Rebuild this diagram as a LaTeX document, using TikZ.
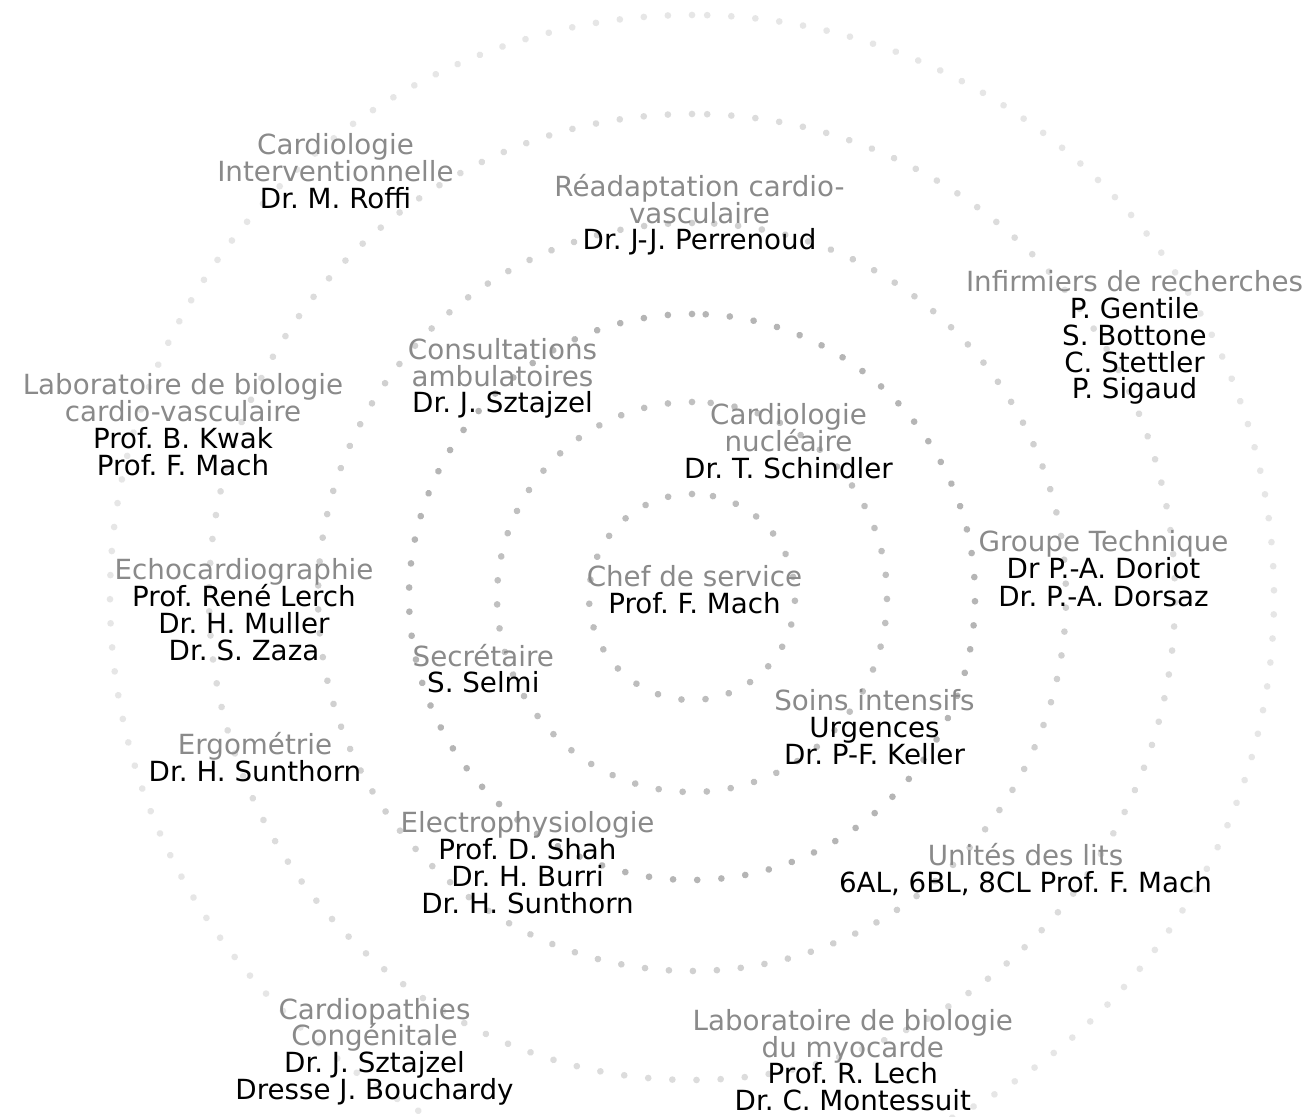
\documentclass[tikz,border=0pt]{standalone}
\usepackage{fontspec}
\setmainfont{DejaVu Sans}
\definecolor{lblgray}{HTML}{8A8A8A}
\definecolor{ringA}{HTML}{BDBDBD}
\definecolor{ringB}{HTML}{C0C0C0}
\definecolor{ringC}{HTML}{B5B5B5}
\definecolor{ringD}{HTML}{D0D0D0}
\definecolor{ringE}{HTML}{DCDCDC}
\definecolor{ringF}{HTML}{E6E6E6}
\newcommand\labelfont{\fontsize{20.8pt}{20pt}\selectfont\frenchspacing}
\newcommand\lbl[5]{\node[#4, anchor=base] (#1) at (#2, {1116-#3}) {#5};}
\tikzset{
  dotring/.style={line width=5pt, line cap=round},
  gl/.style={text=lblgray, font=\labelfont, inner sep=0pt},
  bl/.style={text=black, font=\labelfont, inner sep=0pt}
}
\begin{document}
\begin{tikzpicture}[x=0.75pt,y=0.75pt]
\useasboundingbox[fill=white] (0,0) rectangle (1312,1116);
\coordinate (ctr) at (692,519);
% concentric dotted rings, each starting at its top point
\draw[dotring, ringF, dash pattern=on 0.01pt off 18.08pt] (692,1101) arc[start angle=90, end angle=450, radius=582];
\draw[dotring, ringE, dash pattern=on 0.01pt off 18.11pt] (692,1002) arc[start angle=90, end angle=450, radius=483];
\draw[dotring, ringD, dash pattern=on 0.01pt off 17.99pt] (692,893) arc[start angle=90, end angle=450, radius=374];
\draw[dotring, ringC, dash pattern=on 0.01pt off 18.12pt] (692,802) arc[start angle=90, end angle=450, radius=283];
\draw[dotring, ringB, dash pattern=on 0.01pt off 18.09pt] (692,714) arc[start angle=90, end angle=450, radius=195];
\draw[dotring, ringA, dash pattern=on 0.01pt off 18.05pt] (692,622) arc[start angle=90, end angle=450, radius=103];

% labels
\lbl{ci1}{335.5}{155}{gl}{Cardiologie}
\lbl{ci2}{335.5}{182}{gl}{Interventionnelle}
\lbl{ci3}{335.5}{209}{bl}{Dr. M. Roffi}

\lbl{re1}{699.5}{196.5}{gl}{Réadaptation cardio-}
\lbl{re2}{699.5}{223.3}{gl}{vasculaire}
\lbl{re3}{699.5}{250}{bl}{Dr. J-J. Perrenoud}

\lbl{in1}{1134.5}{291.7}{gl}{Infirmiers de recherches}
\lbl{in2}{1134.5}{318.5}{bl}{P. Gentile}
\lbl{in3}{1134.5}{345.3}{bl}{S. Bottone}
\lbl{in4}{1134.5}{372.1}{bl}{C. Stettler}
\lbl{in5}{1134.5}{398.9}{bl}{P. Sigaud}

\lbl{lc1}{183}{395}{gl}{Laboratoire de biologie}
\lbl{lc2}{183}{422}{gl}{cardio-vasculaire}
\lbl{lc3}{183}{449}{bl}{Prof. B. Kwak}
\lbl{lc4}{183}{476}{bl}{Prof. F. Mach}

\lbl{co1}{502.5}{359.5}{gl}{Consultations}
\lbl{co2}{502.5}{386.3}{gl}{ambulatoires}
\lbl{co3}{502.5}{413}{bl}{Dr. J. Sztajzel}

\lbl{cn1}{788.5}{425}{gl}{Cardiologie}
\lbl{cn2}{788.5}{452}{gl}{nucléaire}
\lbl{cn3}{788.5}{478.6}{bl}{Dr. T. Schindler}

\lbl{gt1}{1103.5}{552}{gl}{Groupe Technique}
\lbl{gt2}{1103.5}{579}{bl}{Dr P.-A. Doriot}
\lbl{gt3}{1103.5}{606.5}{bl}{Dr. P.-A. Dorsaz}

\lbl{ec1}{244}{580}{gl}{Echocardiographie}
\lbl{ec2}{244}{607}{bl}{Prof. René Lerch}
\lbl{ec3}{244}{634}{bl}{Dr. H. Muller}
\lbl{ec4}{244}{661}{bl}{Dr. S. Zaza}

\lbl{ch1}{694.5}{586.7}{gl}{Chef de service}
\lbl{ch2}{694.5}{613.3}{bl}{Prof. F. Mach}

\lbl{se1}{483.3}{666.5}{gl}{Secrétaire}
\lbl{se2}{483.3}{693}{bl}{S. Selmi}

\lbl{si1}{874.5}{711}{gl}{Soins intensifs}
\lbl{si2}{874.5}{737.8}{bl}{Urgences}
\lbl{si3}{874.5}{764.5}{bl}{Dr. P-F. Keller}

\lbl{er1}{255}{754.5}{gl}{Ergométrie}
\lbl{er2}{255}{781.5}{bl}{Dr. H. Sunthorn}

\lbl{el1}{527.5}{833}{gl}{Electrophysiologie}
\lbl{el2}{527.5}{860}{bl}{Prof. D. Shah}
\lbl{el3}{527.5}{887}{bl}{Dr. H. Burri}
\lbl{el4}{527.5}{914}{bl}{Dr. H. Sunthorn}

\lbl{un1}{1025.5}{866}{gl}{Unités des lits}
\lbl{un2}{1025.5}{892.6}{bl}{6AL, 6BL, 8CL Prof. F. Mach}

\lbl{cp1}{374.5}{1019.3}{gl}{Cardiopathies}
\lbl{cp2}{374.5}{1046}{gl}{Congénitale}
\lbl{cp3}{374.5}{1072.8}{bl}{Dr. J. Sztajzel}
\lbl{cp4}{374.5}{1099.5}{bl}{Dresse J. Bouchardy}

\lbl{lm1}{852.8}{1031}{gl}{Laboratoire de biologie}
\lbl{lm2}{852.8}{1057.5}{gl}{du myocarde}
\lbl{lm3}{852.8}{1084}{bl}{Prof. R. Lech}
\lbl{lm4}{852.8}{1110}{bl, text depth=0pt}{Dr. C. Montessuit}
\end{tikzpicture}
\end{document}
